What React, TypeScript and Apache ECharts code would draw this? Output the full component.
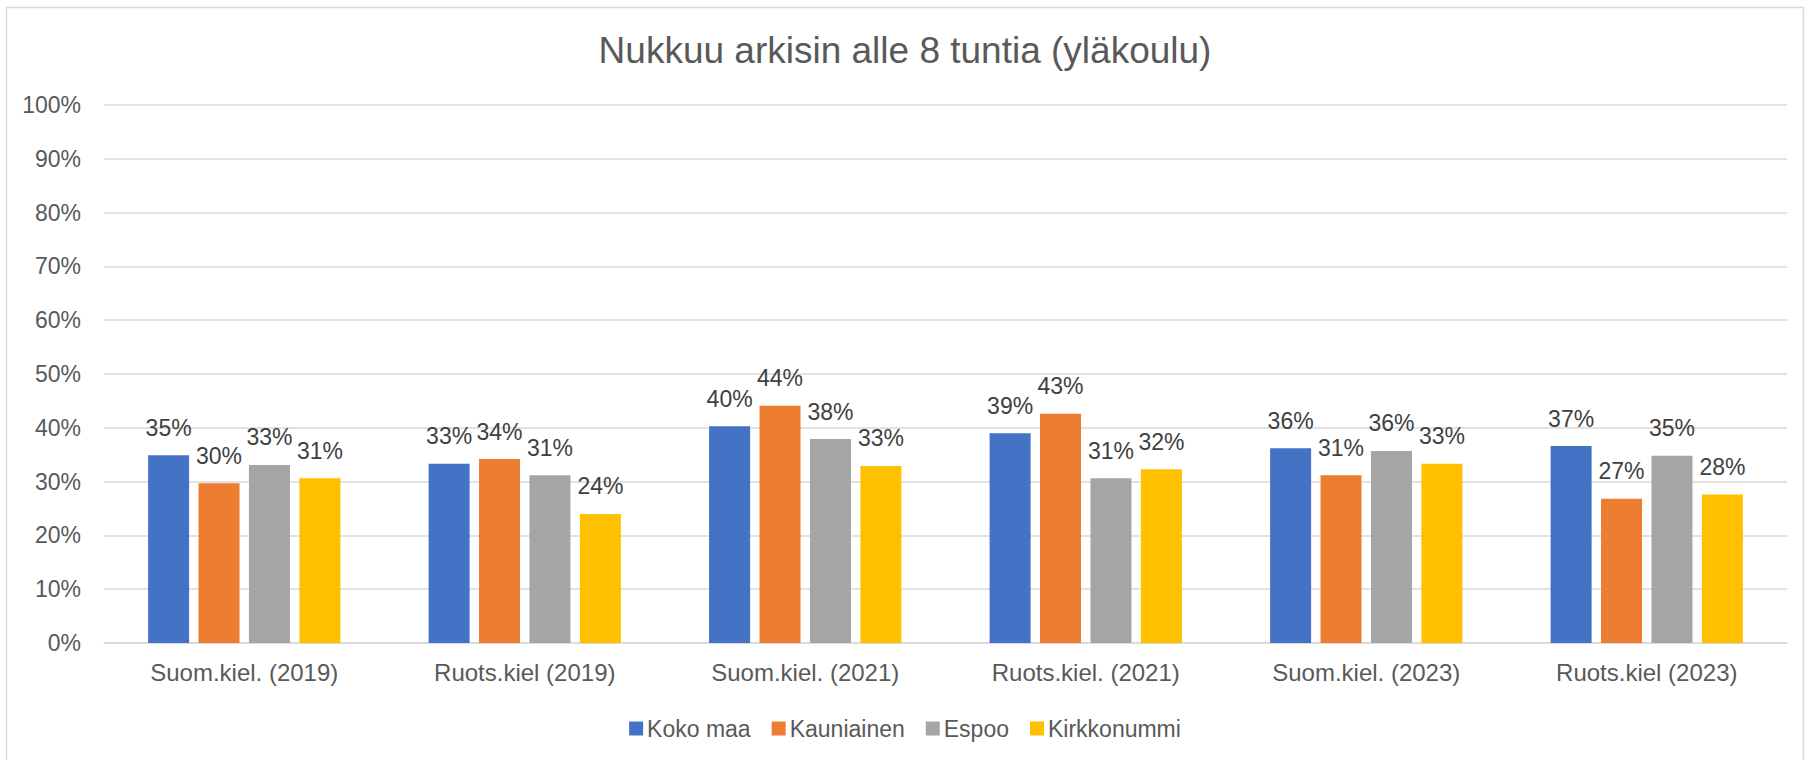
import React, { useEffect, useRef } from "react";
import * as echarts from "echarts";

const categories = [
  "Suom.kiel. (2019)",
  "Ruots.kiel (2019)",
  "Suom.kiel. (2021)",
  "Ruots.kiel. (2021)",
  "Suom.kiel. (2023)",
  "Ruots.kiel (2023)",
];
const seriesNames = ["Koko maa", "Kauniainen", "Espoo", "Kirkkonummi"];
const kokoMaa = [34.9, 33.3, 40.3, 39.0, 36.2, 36.6];
const kauniainen = [29.7, 34.2, 44.1, 42.6, 31.2, 26.8];
const espoo = [33.1, 31.2, 37.9, 30.6, 35.7, 34.8];
const kirkkonummi = [30.6, 24.0, 32.9, 32.3, 33.3, 27.6];
const colors = ["#4472C4", "#ED7D31", "#A5A5A5", "#FFC000"];
const titleText = "Nukkuu arkisin alle 8 tuntia (yläkoulu)";

const FONT = "'Liberation Sans', Arial, sans-serif";

export default function App() {
  const ref = useRef<HTMLDivElement>(null);
  useEffect(() => {
    if (!ref.current) return;
    const chart = echarts.init(ref.current, null, { renderer: "svg" });
    const data = [kokoMaa, kauniainen, espoo, kirkkonummi];
    chart.setOption({
      animation: false,
      backgroundColor: "#ffffff",
      textStyle: { fontFamily: FONT },
      title: {
        text: titleText,
        left: "center",
        top: 32,
        padding: 0,
        textStyle: { fontFamily: FONT, fontSize: 37, fontWeight: "normal", color: "#595959" },
      },
      legend: {
        top: 712,
        left: "center",
        icon: "rect",
        itemWidth: 14,
        itemHeight: 14,
        itemGap: 21,
        textStyle: { fontFamily: FONT, fontSize: 23, color: "#595959", padding: [0, 0, 0, -1] },
        data: seriesNames,
      },
      grid: { left: 104, right: 23, top: 105, bottom: 117, containLabel: false },
      xAxis: {
        type: "category",
        data: categories,
        axisLine: { lineStyle: { color: "#d9d9d9", width: 1.5 } },
        axisTick: { show: false },
        axisLabel: { fontFamily: FONT, fontSize: 24, color: "#595959", margin: 17 },
      },
      yAxis: {
        type: "value",
        min: 0,
        max: 100,
        interval: 10,
        axisLine: { show: false },
        axisTick: { show: false },
        splitLine: { lineStyle: { color: "#d9d9d9", width: 1.5 } },
        axisLabel: {
          fontFamily: FONT,
          fontSize: 23,
          color: "#595959",
          margin: 23,
          formatter: "{value}%",
        },
      },
      series: seriesNames.map((name, i) => ({
        name,
        type: "bar",
        data: data[i],
        barWidth: 41,
        barGap: "23%",
        itemStyle: { color: colors[i] },
        label: {
          show: true,
          position: "top",
          distance: 16,
          fontFamily: FONT,
          fontSize: 23,
          color: "#404040",
          formatter: (p: any) => Math.round(p.value) + "%",
        },
      })),
      graphic: [
        {
          type: "rect",
          shape: { x: 6.5, y: 7.5, width: 1797, height: 760 },
          style: { fill: "none", stroke: "#d9d9d9", lineWidth: 1.5 },
          silent: true,
          z: -1,
        },
      ],
    });
    return () => chart.dispose();
  }, []);
  return (
    <div
      ref={ref}
      style={{ position: "absolute", left: 0, top: 0, width: 1810, height: 760 }}
    />
  );
}
